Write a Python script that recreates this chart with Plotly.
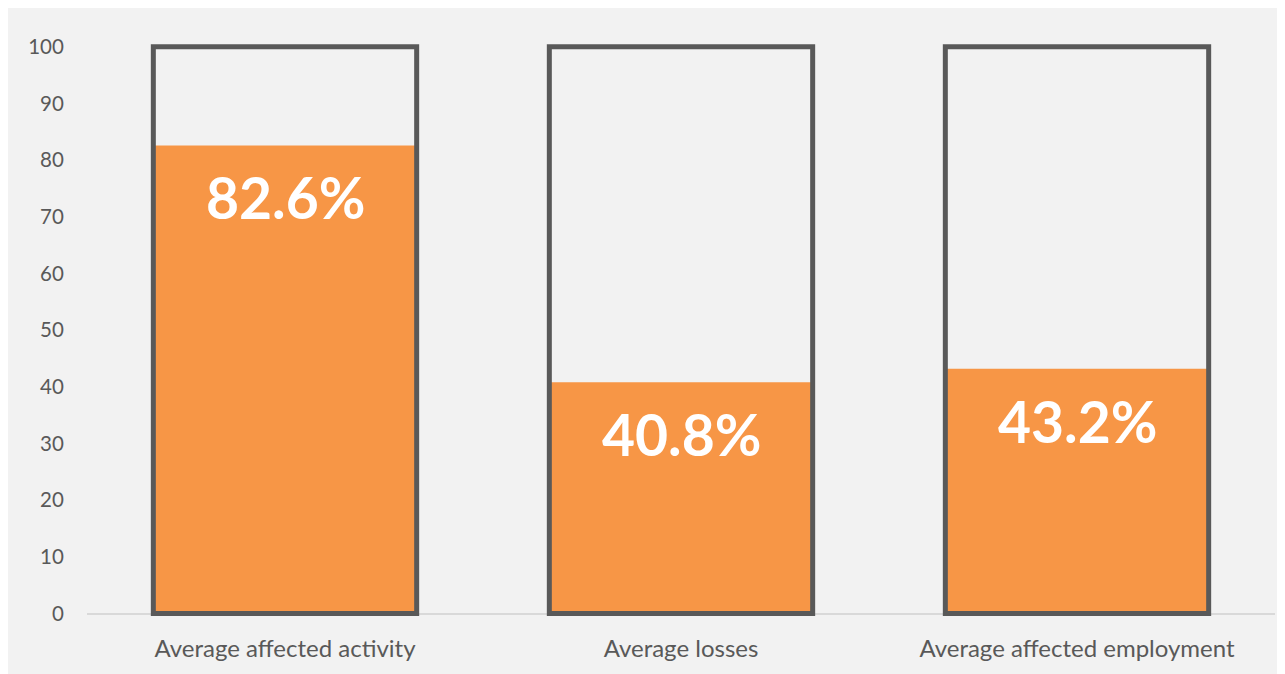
import plotly.graph_objects as go

categories = ["Average affected activity", "Average losses", "Average affected employment"]
values = [82.6, 40.8, 43.2]
full_scale = [100, 100, 100]
labels = ["82.6%", "40.8%", "43.2%"]
tick_vals = [0, 10, 20, 30, 40, 50, 60, 70, 80, 90, 100]

ORANGE = "#f79646"
OUTLINE = "#595959"
BG = "#f2f2f2"
TXT = "#595959"

fig = go.Figure()
fig.add_trace(go.Bar(x=categories, y=values, marker=dict(color=ORANGE, line=dict(width=0)),
                     width=0.665, hoverinfo="skip"))
fig.add_trace(go.Bar(x=categories, y=full_scale,
                     marker=dict(color="rgba(0,0,0,0)", line=dict(color=OUTLINE, width=5)),
                     width=0.665, hoverinfo="skip"))

for c, v, t in zip(categories, values, labels):
    fig.add_annotation(x=c, y=v, text="<b>%s</b>" % t, showarrow=False,
                       yanchor="middle", yshift=-52,
                       font=dict(family="Lato", size=57, color="white"))

W, H = 1277, 666
L, R, T, B = 79, 10, 32, 57

fig.update_layout(
    width=W, height=H,
    margin=dict(l=L, r=R, t=T, b=B),
    barmode="overlay",
    showlegend=False,
    paper_bgcolor=BG, plot_bgcolor=BG,
    font=dict(family="Lato", color=TXT),
    xaxis=dict(showgrid=False, showline=False, zeroline=False,
               ticks="outside", ticklen=10, tickcolor="rgba(0,0,0,0)",
               tickfont=dict(size=24, color=TXT)),
    yaxis=dict(range=[-0.6, 101.2], tickvals=tick_vals, showgrid=False,
               zeroline=True, zerolinecolor="#d9d9d9", zerolinewidth=1.5,
               showline=False, ticks="outside", ticklen=18, tickcolor="rgba(0,0,0,0)",
               tickfont=dict(size=20.5, color=TXT)),
)

fig.write_html("out.html")
